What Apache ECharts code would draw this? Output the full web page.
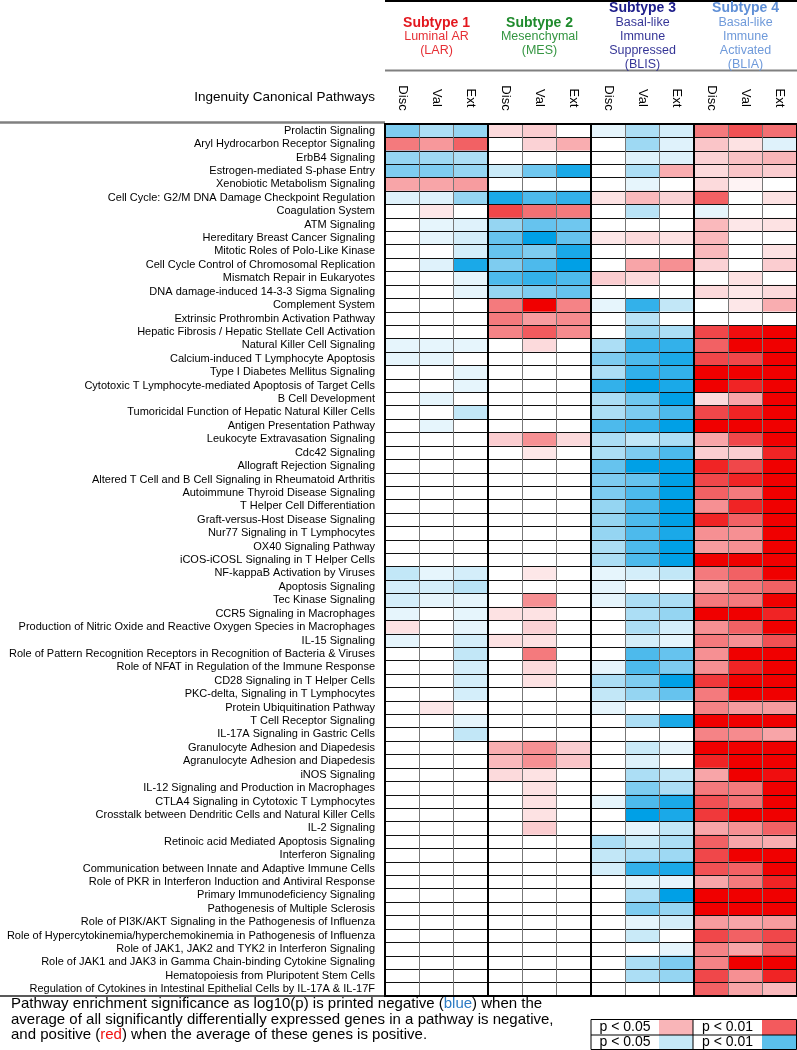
<!DOCTYPE html>
<html><head><meta charset="utf-8">
<script src="https://cdn.jsdelivr.net/npm/echarts@6/dist/echarts.min.js"></script>
<style>html,body{margin:0;padding:0;background:#fff}#c{width:797px;height:1050px}</style>
</head><body><div id="c"></div>
<script>
const pathways = [
"Prolactin Signaling","Aryl Hydrocarbon Receptor Signaling","ErbB4 Signaling","Estrogen-mediated S-phase Entry",
"Xenobiotic Metabolism Signaling","Cell Cycle: G2/M DNA Damage Checkpoint Regulation","Coagulation System","ATM Signaling",
"Hereditary Breast Cancer Signaling","Mitotic Roles of Polo-Like Kinase","Cell Cycle Control of Chromosomal Replication",
"Mismatch Repair in Eukaryotes","DNA damage-induced 14-3-3 Sigma Signaling","Complement System",
"Extrinsic Prothrombin Activation Pathway","Hepatic Fibrosis / Hepatic Stellate Cell Activation","Natural Killer Cell Signaling",
"Calcium-induced T Lymphocyte Apoptosis","Type I Diabetes Mellitus Signaling","Cytotoxic T Lymphocyte-mediated Apoptosis of Target Cells",
"B Cell Development","Tumoricidal Function of Hepatic Natural Killer Cells","Antigen Presentation Pathway",
"Leukocyte Extravasation Signaling","Cdc42 Signaling","Allograft Rejection Signaling",
"Altered T Cell and B Cell Signaling in Rheumatoid Arthritis","Autoimmune Thyroid Disease Signaling","T Helper Cell Differentiation",
"Graft-versus-Host Disease Signaling","Nur77 Signaling in T Lymphocytes","OX40 Signaling Pathway","iCOS-iCOSL Signaling in T Helper Cells",
"NF-kappaB Activation by Viruses","Apoptosis Signaling","Tec Kinase Signaling","CCR5 Signaling in Macrophages",
"Production of Nitric Oxide and Reactive Oxygen Species in Macrophages","IL-15 Signaling",
"Role of Pattern Recognition Receptors in Recognition of Bacteria & Viruses","Role of NFAT in Regulation of the Immune Response",
"CD28 Signaling in T Helper Cells","PKC-delta, Signaling in T Lymphocytes","Protein Ubiquitination Pathway","T Cell Receptor Signaling",
"IL-17A Signaling in Gastric Cells","Granulocyte Adhesion and Diapedesis","Agranulocyte Adhesion and Diapedesis","iNOS Signaling",
"IL-12 Signaling and Production in Macrophages","CTLA4 Signaling in Cytotoxic T Lymphocytes",
"Crosstalk between Dendritic Cells and Natural Killer Cells","IL-2 Signaling","Retinoic acid Mediated Apoptosis Signaling",
"Interferon Signaling","Communication between Innate and Adaptive Immune Cells","Role of PKR in Interferon Induction and Antiviral Response",
"Primary Immunodeficiency Signaling","Pathogenesis of Multiple Sclerosis","Role of PI3K/AKT Signaling in the Pathogenesis of Influenza",
"Role of Hypercytokinemia/hyperchemokinemia in Pathogenesis of Influenza","Role of JAK1, JAK2 and TYK2 in Interferon Signaling",
"Role of JAK1 and JAK3 in Gamma Chain-binding Cytokine Signaling","Hematopoiesis from Pluripotent Stem Cells",
"Regulation of Cytokines in Intestinal Epithelial Cells by IL-17A & IL-17F"
];
const cohorts = ["Disc","Val","Ext"];
const subtypeTitles = ["Subtype 1","Subtype 2","Subtype 3","Subtype 4"];
const subtypeLines = [["Luminal AR","(LAR)"],["Mesenchymal","(MES)"],["Basal-like","Immune","Suppressed","(BLIS)"],["Basal-like","Immune","Activated","(BLIA)"]];
const subtypeColors = ["#E3171E","#1E8A2C","#1C1C8A","#5F8FD6"];
const legendLabels = ["p < 0.05","p < 0.01"];

// signed significance: negative = blue, positive = red; columns Disc, Val, Ext
const lar = [
[-3.5,-2.5,-3],[4,3.3,4.5],[-3,-2.8,-2.5],[-3.5,-3.5,-3],[3,3,3.2],[-1.2,-1.2,-3],[0,1,0],[0,-1,-1.2],[0,-1,-1.5],[0,0,-1.5],
[0,-1.2,-5.5],[0,0,-1],[0,0,-1],[0,0,0],[0,0,0],[0,0,0],[-1,-1,-1],[-1,-1,0],[0,0,-1],[0,0,-1],
[0,-1,0],[0,0,-2],[0,-1,0],[0,0,0],[0,0,0],[0,0,0],[0,0,0],[0,0,0],[0,0,0],[0,0,0],
[0,0,0],[0,0,0],[0,0,0],[-2,-1,-1.5],[-1.5,-1.5,-2.2],[-1.5,-1,-1],[-1,0,-1],[1.2,0,-1],[-1,0,-1.5],[0,0,-2],
[0,0,-1.5],[0,0,-1.5],[0,0,-1.5],[0,1,0],[0,0,-1],[0,0,-2],[0,0,0],[0,0,0],[0,0,0],[0,0,0],
[0,0,0],[0,0,0],[0,0,0],[0,0,0],[0,0,0],[0,0,0],[0,0,0],[0,0,0],[0,0,0],[0,0,0],
[0,0,0],[0,0,0],[0,0,0],[0,0,0],[0,0,0]
];
const mes = [
[1.5,2,0],[0,1.8,2.8],[0,0,0],[-1.8,-3.8,-5.5],[0,0,0],[-5.5,-4.5,-5],[5,4.2,4],[-3,-4,-3.8],[-4,-6,-4],[-4,-3.5,-5.5],
[-3.5,-4.5,-6],[-4.5,-5,-4.5],[-3,-3.5,-4],[4,6,3.8],[4,3.2,3.6],[3.8,4.6,3.6],[0,1.5,0],[0,0,0],[0,0,0],[0,0,0],
[0,0,0],[0,0,0],[0,0,0],[2,3.5,1.5],[0,1,0],[0,0,0],[0,0,0],[0,0,0],[0,0,0],[0,0,0],
[0,0,0],[0,0,0],[0,0,0],[0,1,0],[0,0,0],[0,3.5,0],[1.2,1.2,0],[0,1.8,0],[1.2,1.2,0],[0,4,0],
[0,1.5,0],[0,1.2,0],[0,0,0],[0,0,0],[0,0,0],[0,0,0],[2.8,3.5,2],[2.5,3.5,2.2],[1.5,1.2,0],[0,1.2,0],
[0,1.2,0],[0,1.2,0],[0,2,0],[0,0,0],[0,0,0],[0,0,0],[0,0,0],[0,0,0],[0,0,0],[0,0,0],
[0,0,0],[0,0,0],[0,0,0],[0,0,0],[0,0,0]
];
const blis = [
[-1,-2.5,-1.5],[0,-2.8,-1.2],[0,-1.2,-1.2],[0,-2.5,2.8],[0,-1,0],[1.2,2.5,1.8],[0,-2.2,0],[0,0,0],[1,1.5,1.2],[0,0,0],
[0,3,3.5],[2,1.5,0],[0,0,0],[-1,-5,-2],[0,-2.2,0],[0,-3,-2.5],[-2.5,-5,-5],[-3.5,-4.5,-5.5],[-2.5,-5,-5],[-5,-6,-5.5],
[-2.5,-3.8,-6],[-2.5,-3.5,-4.5],[-4.5,-5,-6],[-2.5,-2,-2.5],[-2.5,-3.5,-4.5],[-4,-6,-6],[-3.5,-4,-6],[-3.5,-4.5,-6],[-3,-4.5,-6],[-3,-4.5,-6],
[-3,-4.5,-5.5],[-2.5,-4.5,-6],[-2.5,-4.5,-6],[-1,-1.5,-2],[-1,0,0],[-1,-2.5,-2.5],[0,-2.5,-3],[0,-2.5,-1.5],[0,-1.5,-1],[0,-4.5,-4],
[-1,-4.5,-3.5],[-2.5,-3.5,-6],[-2,-3,-4],[-1,0,0],[0,-2.5,-5.5],[0,0,0],[0,-1.8,-1],[0,-1.2,0],[0,-2.5,-2],[0,-3.5,-2.5],
[-1,-4.5,-5.5],[0,-6,-5.5],[0,-1,-2],[-2.5,-1.8,-2.5],[-2,-2.5,-2.8],[-1.5,-5,-5.5],[0,-1,-1],[0,-2.5,-6],[0,-3.5,-3],[0,-1,-1.5],
[0,-1.8,0],[0,0,-1],[0,-2.5,-3.5],[0,-2.5,-3],[0,0,0]
];
const blia = [
[4,4.8,4.2],[2.2,1.2,-1.2],[1.8,2.3,2.6],[1.5,2.2,2],[1.5,0.5,0],[4.5,0,1.2],[-1,0,0],[2.5,1,1.2],[2.5,0,0],[2.5,0,1.2],
[1.8,0,2],[0,1.2,0],[1.5,1,1.5],[0,1,2.8],[0,0,0],[5,5.8,6],[4.5,6,6],[5,5,6],[6,6,6],[6,5.5,6],
[1.5,3,6],[5,5.5,6],[6,6,6],[3,5,6],[2,2,5.5],[5.5,5,6],[5,5.5,6],[4.5,4,6],[3.5,5.5,6],[5.5,4.5,6],
[3.5,3.5,6],[3.2,3.5,6],[6,6,6],[4,4.5,6],[3,4,4.5],[4,4,6],[6,6,5.5],[3.5,4.5,6],[4,3.5,4.8],[3.5,6,6],
[3.5,5.5,6],[5.2,6,6],[4,6,6],[3.8,3.2,3.2],[6,6,6],[3.8,3.6,3],[6,6,6],[5.5,6,6],[3,6,5.8],[4,4,6],
[4.8,4.2,6],[5.2,6,6],[3,3.5,4.5],[4.5,3,2.8],[5,6,6],[4.8,4.5,6],[3,4,5.5],[6,6,6],[6,6,6],[3.2,3,3.2],
[5,4.5,5],[3.8,3,4.5],[3.8,6,6],[5,3.5,5.5],[4.5,3,2.5]
];

const FONT = "'Liberation Sans', Arial, sans-serif";
const columns = [];
subtypeTitles.forEach(() => cohorts.forEach(c => columns.push(c)));
const groups = [lar, mes, blis, blia];
const cells = [];
groups.forEach((g, gi) => g.forEach((row, ri) => row.forEach((v, ci) => cells.push([gi * 3 + ci, ri, v]))));

const chart = echarts.init(document.getElementById('c'), null, {renderer: 'canvas'});
const GRID = {left: 385, top: 124, width: 412, height: 872};
chart.setOption({
  animation: false,
  backgroundColor: '#fff',
  grid: {left: GRID.left, top: GRID.top, width: GRID.width, height: GRID.height, show: true,
         backgroundColor: 'transparent', borderColor: '#000', borderWidth: 2, z: 20},
  xAxis: [
    {type: 'category', data: columns, position: 'top', z: 10,
     axisLine: {show: false}, axisTick: {show: false},
     axisLabel: {rotate: 90, align: 'center', verticalAlign: 'middle', margin: 26, fontSize: 13, color: '#000', fontFamily: FONT, interval: 0},
     splitLine: {show: true, interval: 0, lineStyle: {color: '#777', width: 1}}},
    {type: 'category', data: columns, position: 'top', z: 11,
     axisLine: {show: false}, axisTick: {show: false}, axisLabel: {show: false},
     splitLine: {show: true, interval: (i) => i % 3 === 0, lineStyle: {color: '#000', width: 2}}}
  ],
  yAxis: {type: 'category', data: pathways, inverse: true, z: 10,
    axisLine: {show: false}, axisTick: {show: false},
    axisLabel: {fontSize: 11, color: '#000', margin: 10, fontFamily: FONT, interval: 0},
    splitLine: {show: true, interval: 0, lineStyle: {color: '#111', width: 1}}},
  visualMap: {show: false, type: 'continuous', min: -6, max: 6, dimension: 2, calculable: false,
    inRange: {color: ['#00A0E6','#33B1EA','#66C3EE','#95D5F2','#C2E7F7','#E6F5FC','#FFFFFF',
                      '#FDE7E8','#FBCDD0','#F8A5A8','#F47A7D','#F0474A','#F00000']}},
  series: [{type: 'heatmap', data: cells, xAxisIndex: 0, yAxisIndex: 0, z: 2,
    itemStyle: {borderWidth: 0}, emphasis: {disabled: true}}]
});

// header, decorations and legend
const g = [];
g.push({type: 'line', shape: {x1: 385, y1: 1, x2: 797, y2: 1}, style: {stroke: '#000', lineWidth: 2}});
g.push({type: 'line', shape: {x1: 385, y1: 70.5, x2: 797, y2: 70.5}, style: {stroke: '#808080', lineWidth: 2}});
g.push({type: 'line', shape: {x1: 0, y1: 122.5, x2: 385, y2: 122.5}, style: {stroke: '#808080', lineWidth: 2.5}});
g.push({type: 'line', shape: {x1: 0, y1: 996, x2: 385, y2: 996}, style: {stroke: '#222', lineWidth: 1.5}});
g.push({type: 'text', x: 375, y: 97.5, style: {text: 'Ingenuity Canonical Pathways', fontSize: 13.5, fontFamily: FONT,
  fill: '#000', align: 'right', verticalAlign: 'middle'}});
subtypeTitles.forEach((t, i) => {
  const cx = chart.convertToPixel({xAxisIndex: 0}, i * 3 + 1);
  const lines = [t].concat(subtypeLines[i]);
  const y0 = lines.length === 3 ? 22.7 : 8.5;
  lines.forEach((ln, k) => {
    g.push({type: 'text', x: cx, y: y0 + k * 14.1, style: {text: ln, fontSize: k === 0 ? 14 : 12.5,
      fontWeight: k === 0 ? 'bold' : 'normal', fontFamily: FONT, fill: subtypeColors[i],
      opacity: k === 0 ? 1 : 0.9, align: 'center', verticalAlign: 'middle'}});
  });
});
g.push({type: 'text', x: 11, y: 996.5, style: {
  text: 'Pathway enrichment significance as log10(p) is printed negative ({b|blue}) when the\naverage of all significantly differentially expressed genes in a pathway is negative,\nand positive ({r|red}) when the average of these genes is positive.',
  fontSize: 15, lineHeight: 15.5, fontFamily: FONT, fill: '#000', align: 'left', verticalAlign: 'top',
  rich: {b: {fill: '#2E7CC4', fontSize: 15, fontFamily: FONT, lineHeight: 15.5}, r: {fill: '#F01010', fontSize: 15, fontFamily: FONT, lineHeight: 15.5}}}});
// legend box
const lx = [591, 659, 693, 762, 797], ly = [1019.5, 1035, 1049.5];
const swatch = [['#F9B5B8', '#F35A5D'], ['#C5E8F7', '#5BC0EB']];
for (let r = 0; r < 2; r++) {
  for (let c = 0; c < 2; c++) {
    g.push({type: 'rect', shape: {x: lx[c * 2 + 1], y: ly[r], width: lx[c * 2 + 2] - lx[c * 2 + 1], height: ly[r + 1] - ly[r]},
      style: {fill: swatch[r][c]}});
    g.push({type: 'text', x: (lx[c * 2] + lx[c * 2 + 1]) / 2, y: (ly[r] + ly[r + 1]) / 2,
      style: {text: legendLabels[c], fontSize: 14, fontFamily: FONT, fill: '#000', align: 'center', verticalAlign: 'middle'}});
  }
}
g.push({type: 'rect', shape: {x: 591, y: 1019.5, width: 205.5, height: 30}, style: {fill: 'none', stroke: '#000', lineWidth: 1}});
g.push({type: 'line', shape: {x1: 591, y1: 1035, x2: 797, y2: 1035}, style: {stroke: '#000', lineWidth: 1}});
g.push({type: 'line', shape: {x1: 693, y1: 1019.5, x2: 693, y2: 1049.5}, style: {stroke: '#000', lineWidth: 1}});
chart.setOption({graphic: g});
</script></body></html>
